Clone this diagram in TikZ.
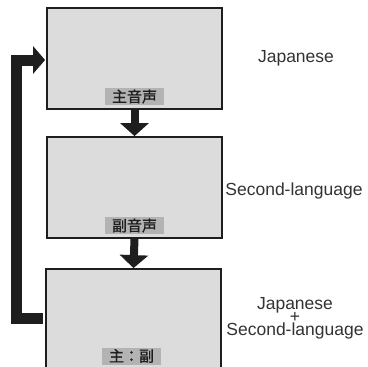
\documentclass[tikz,border=0pt]{standalone}
\usepackage{fontspec}
\setmainfont{Liberation Sans}
\newfontfamily\cjk{Noto Sans CJK JP}[FakeBold=1.2]
\usetikzlibrary{arrows.meta}
\definecolor{boxfill}{HTML}{DCDCDD}
\definecolor{labfill}{HTML}{B3B3B4}
\definecolor{ink}{HTML}{1E1E1E}
\definecolor{txtc}{HTML}{333333}
\tikzset{
  screen/.style={draw=ink, line width=1.8pt, fill=boxfill, minimum width=175pt, minimum height=101pt, inner sep=0pt},
  lab/.style={fill=labfill, minimum width=59pt, minimum height=17pt, inner sep=0pt, text=ink, font=\cjk\fontsize{15pt}{15pt}\selectfont},
  downarrow/.style={draw=ink, line width=8pt, -{Triangle[width=28pt,length=13pt]}},
  backarrow/.style={draw=ink, line width=11pt, line join=miter, -{Triangle[width=27pt,length=12pt]}},
  txt/.style={text=txtc, inner sep=0pt, font=\fontsize{17.5pt}{18pt}\selectfont}
}
\begin{document}
\begin{tikzpicture}[x=1pt,y=-1pt]
\useasboundingbox (0,0) rectangle (367,367);
\clip (0,0) rectangle (367,367);
\fill[white] (0,0) rectangle (367,367);
\node[screen] (b1) at (134.5,58.5) {};
\node[screen] (b2) at (134.5,187.5) {};
\node[screen] (b3) at (133.5,319.5) {};
\node[lab] (l1) at (134.5,96.5) {主音声};
\node[lab] (l2) at (134.5,225.5) {副音声};
\node[lab] (l3) at (131.5,356) {主：副};
\draw[downarrow] (b1.south) -- (b2.north);
\draw[downarrow] (b2.south) -- (b3.north);
\coordinate (fs) at (43,318);
\draw[backarrow] (fs) -- (16,318) |- ([xshift=-1pt,yshift=-1.5pt]b1.west);
\node[txt, anchor=base] (t1) at (296,62) {Japanese};
\node[txt, anchor=base] (t2) at (294,195) {Second-language};
\node[txt, align=center, anchor=north, font=\fontsize{17.5pt}{13pt}\selectfont, execute at begin node={\lineskiplimit=-100pt\lineskip=0pt}] (t3) at (295,297) {Japanese\\+\\Second-language};
\end{tikzpicture}
\end{document}
